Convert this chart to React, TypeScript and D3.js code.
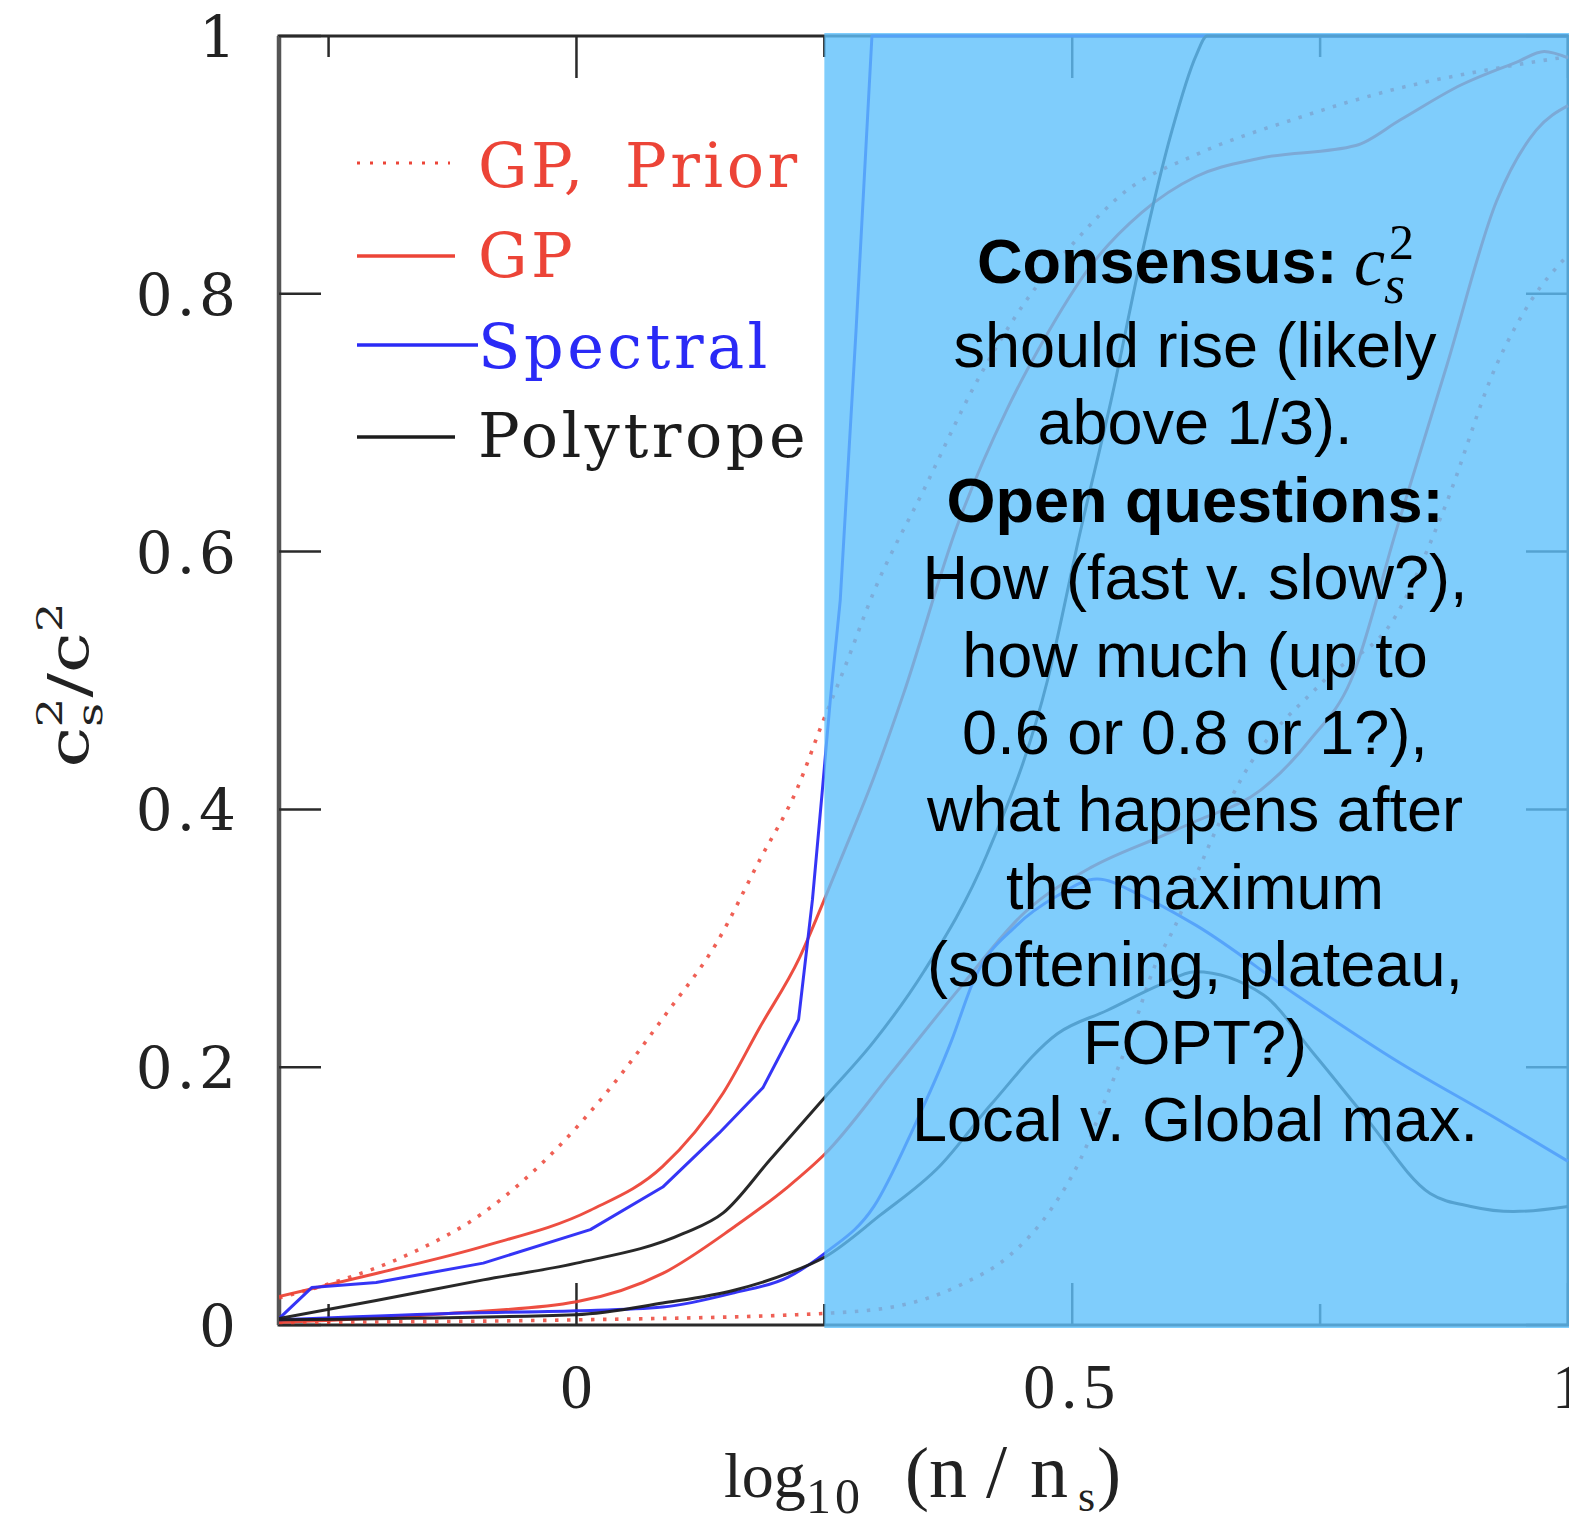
import React from "react";
import * as d3 from "d3";

const W = 1569;
const H = 1523;

// Axis ticks
const X_MAJOR = [0, 0.5, 1];
const X_MAJOR_LABELS = ["0", "0.5", "1"];
const X_MINOR = [-0.25, 0.25, 0.75];
const Y_MAJOR = [0, 0.2, 0.4, 0.6, 0.8, 1];
const Y_MAJOR_LABELS = ["0", "0.2", "0.4", "0.6", "0.8", "1"];

// 90% bands of c_s^2 vs log10(n/n_s): [log10(n/n_s), c_s^2]
const PRIOR_UPPER: [number, number][] = [
  [-0.3, 0.021], [-0.245, 0.033], [-0.166, 0.056], [-0.094, 0.087], [-0.021, 0.136],
  [0.03, 0.18], [0.091, 0.242], [0.141, 0.296], [0.185, 0.361], [0.222, 0.415],
  [0.248, 0.467], [0.27, 0.509], [0.3, 0.569], [0.351, 0.649], [0.401, 0.728],
  [0.452, 0.793], [0.502, 0.84], [0.553, 0.879], [0.625, 0.908], [0.726, 0.936],
  [0.827, 0.959], [0.928, 0.975], [1.0, 0.984],
];
const PRIOR_LOWER: [number, number][] = [
  [-0.3, 0.002], [0, 0.004], [0.25, 0.009], [0.326, 0.015], [0.387, 0.031],
  [0.437, 0.054], [0.478, 0.089], [0.508, 0.128], [0.535, 0.178], [0.559, 0.225],
  [0.583, 0.278], [0.604, 0.31], [0.625, 0.349], [0.67, 0.423], [0.754, 0.5],
  [0.827, 0.551], [0.875, 0.633], [0.928, 0.745], [0.963, 0.795], [1.0, 0.83],
];
const GP_UPPER: [number, number][] = [
  [-0.3, 0.022], [-0.202, 0.04], [-0.094, 0.061], [0.014, 0.089], [0.087, 0.123],
  [0.148, 0.18], [0.185, 0.231], [0.225, 0.285], [0.251, 0.332], [0.267, 0.362],
  [0.3, 0.425], [0.33, 0.49], [0.384, 0.62], [0.434, 0.71], [0.469, 0.761],
  [0.519, 0.822], [0.57, 0.863], [0.625, 0.891], [0.688, 0.905], [0.786, 0.915],
  [0.831, 0.935], [0.892, 0.962], [0.949, 0.98], [0.976, 0.988], [1.0, 0.983],
];
const GP_LOWER: [number, number][] = [
  [-0.3, 0.002], [-0.129, 0.009], [0, 0.018], [0.087, 0.04], [0.159, 0.076],
  [0.213, 0.107], [0.251, 0.133], [0.317, 0.195], [0.384, 0.259], [0.452, 0.32],
  [0.519, 0.355], [0.586, 0.378], [0.625, 0.391], [0.69, 0.415], [0.74, 0.454],
  [0.781, 0.5], [0.827, 0.617], [0.878, 0.745], [0.928, 0.872], [0.968, 0.927],
  [1.0, 0.946],
];
const SPECTRAL_UPPER: [number, number][] = [
  [-0.3, 0.005], [-0.267, 0.029], [-0.202, 0.033], [-0.094, 0.048], [0.014, 0.074],
  [0.087, 0.107], [0.144, 0.149], [0.188, 0.184], [0.224, 0.237], [0.238, 0.33],
  [0.248, 0.415], [0.256, 0.485], [0.266, 0.562], [0.282, 0.772], [0.298, 1.0],
  [1.0, 1.0],
];
const SPECTRAL_LOWER: [number, number][] = [
  [-0.3, 0.004], [-0.129, 0.009], [0, 0.011], [0.087, 0.014],
  [0.159, 0.025], [0.213, 0.037], [0.251, 0.056], [0.3, 0.092], [0.34, 0.153],
  [0.378, 0.22], [0.401, 0.268], [0.444, 0.31], [0.485, 0.333], [0.525, 0.346],
  [0.57, 0.333], [0.625, 0.31], [0.726, 0.256], [0.827, 0.205], [0.928, 0.16],
  [1.0, 0.127],
];
const POLY_UPPER: [number, number][] = [
  [-0.3, 0.005], [-0.202, 0.019], [-0.094, 0.035], [0, 0.048], [0.108, 0.071],
  [0.148, 0.087], [0.195, 0.128], [0.251, 0.177], [0.3, 0.22], [0.351, 0.275],
  [0.414, 0.365], [0.475, 0.5], [0.508, 0.615], [0.54, 0.72], [0.57, 0.83],
  [0.6, 0.925], [0.625, 0.985], [0.636, 1.0], [1.0, 1.0],
];
const POLY_LOWER: [number, number][] = [
  [-0.3, 0.004], [0, 0.008], [0.087, 0.017], [0.159, 0.027], [0.213, 0.04],
  [0.251, 0.053], [0.306, 0.085], [0.366, 0.123], [0.418, 0.171], [0.485, 0.226],
  [0.535, 0.244], [0.589, 0.264], [0.624, 0.274], [0.693, 0.256], [0.743, 0.211],
  [0.794, 0.163], [0.861, 0.102], [0.902, 0.092], [0.945, 0.088], [1.0, 0.092],
];

const RED = "#ec4437";
const BLUE = "#2a2af6";
const BLACK = "#1c1c1c";

const LEGEND_LABELS = [["GP,", "Prior"], ["GP"], ["Spectral"], ["Polytrope"]];
const LEGEND_COLORS = [RED, RED, BLUE, BLACK];
const LEGEND_DOTTED = [true, false, false, false];

// Shaded highlight region starts at this log10(n/n_s)
const HIGHLIGHT_FROM = 0.25;

const NOTE_LINES = [
  { text: "should rise (likely", bold: false },
  { text: "above 1/3).", bold: false },
  { text: "Open questions:", bold: true },
  { text: "How (fast v. slow?),", bold: false },
  { text: "how much (up to", bold: false },
  { text: "0.6 or 0.8 or 1?),", bold: false },
  { text: "what happens after", bold: false },
  { text: "the maximum", bold: false },
  { text: "(softening, plateau,", bold: false },
  { text: "FOPT?)", bold: false },
  { text: "Local v. Global max.", bold: false },
];

const SERIF_WIDE = "'DejaVu Serif', serif";
const SERIF = "'Liberation Serif', 'Times New Roman', serif";
const SANS = "'Liberation Sans', Arial, Helvetica, sans-serif";

export default function App() {
  const x = d3.scaleLinear().domain([-0.3, 1]).range([279, 1568]);
  const y = d3.scaleLinear().domain([0, 1]).range([1325, 36]);

  const smooth = d3
    .line<[number, number]>()
    .x((d) => x(d[0]))
    .y((d) => y(d[1]))
    .curve(d3.curveMonotoneX);
  const straight = d3
    .line<[number, number]>()
    .x((d) => x(d[0]))
    .y((d) => y(d[1]))
    .curve(d3.curveLinear);

  const x0 = x(-0.3);
  const x1 = x(1);
  const yTop = y(1);
  const yBot = y(0);
  const hx = x(HIGHLIGHT_FROM);

  const curves = [
    { d: smooth(PRIOR_UPPER), color: RED, dotted: true },
    { d: smooth(PRIOR_LOWER), color: RED, dotted: true },
    { d: smooth(GP_UPPER), color: RED, dotted: false },
    { d: smooth(GP_LOWER), color: RED, dotted: false },
    { d: straight(SPECTRAL_UPPER), color: BLUE, dotted: false },
    { d: smooth(SPECTRAL_LOWER), color: BLUE, dotted: false },
    { d: smooth(POLY_UPPER), color: BLACK, dotted: false },
    { d: smooth(POLY_LOWER), color: BLACK, dotted: false },
  ];

  const legendLineY = [163, 256, 345, 437];
  const legendTextY = [187, 277, 368, 457];
  const legendLineEnd = [450, 455, 478, 455];
  const legendWordX = [478, 625];

  const noteX = 1195;
  const noteY0 = 367;
  const noteDy = 77.4;

  return (
    <div style={{ position: "fixed", left: 0, top: 0, width: W, height: H, overflow: "hidden", background: "#fff" }}>
      <svg width={W} height={H} viewBox={`0 0 ${W} ${H}`} style={{ display: "block" }}>
        <defs>
          <clipPath id="plotClip">
            <rect x={x0} y={yTop - 3} width={x1 - x0 + 4} height={yBot - yTop + 6} />
          </clipPath>
        </defs>
        <rect x={0} y={0} width={W} height={H} fill="#fff" />

        {/* frame */}
        <rect x={x0} y={yTop} width={x1 - x0} height={yBot - yTop} fill="none" stroke="#2a2a2a" strokeWidth={3} />
        <line x1={x0} x2={x0} y1={yTop} y2={yBot} stroke="#555" strokeWidth={4.5} />

        {/* x ticks, bottom and top */}
        {X_MAJOR.map((t) => (
          <g key={`xm${t}`} stroke="#2a2a2a" strokeWidth={2.5}>
            <line x1={x(t)} x2={x(t)} y1={yBot} y2={yBot - 42} />
            <line x1={x(t)} x2={x(t)} y1={yTop} y2={yTop + 42} />
          </g>
        ))}
        {X_MINOR.map((t) => (
          <g key={`xn${t}`} stroke="#2a2a2a" strokeWidth={2.5}>
            <line x1={x(t)} x2={x(t)} y1={yBot} y2={yBot - 21} />
            <line x1={x(t)} x2={x(t)} y1={yTop} y2={yTop + 21} />
          </g>
        ))}
        {/* y ticks, left and right */}
        {Y_MAJOR.map((t) => (
          <g key={`ym${t}`} stroke="#2a2a2a" strokeWidth={2.5}>
            <line x1={x0} x2={x0 + 42} y1={y(t)} y2={y(t)} />
            <line x1={x1} x2={x1 - 42} y1={y(t)} y2={y(t)} />
          </g>
        ))}

        {/* bands */}
        <g clipPath="url(#plotClip)" fill="none">
          {curves.map((c, i) => (
            <path
              key={i}
              d={c.d || ""}
              stroke={c.color}
              strokeWidth={c.dotted ? 3.6 : 3}
              strokeDasharray={c.dotted ? "3.5 8.5" : undefined}
              strokeLinejoin="round"
              opacity={c.dotted ? 0.85 : 0.95}
            />
          ))}
        </g>

        {/* legend */}
        {LEGEND_LABELS.map((words, i) => (
          <g key={words.join(" ")}>
            <line
              x1={357}
              x2={legendLineEnd[i]}
              y1={legendLineY[i]}
              y2={legendLineY[i]}
              stroke={LEGEND_COLORS[i]}
              strokeWidth={LEGEND_DOTTED[i] ? 3 : 3.5}
              strokeDasharray={LEGEND_DOTTED[i] ? "3 10" : undefined}
            />
            <text
              y={legendTextY[i]}
              fill={LEGEND_COLORS[i]}
              fontFamily={SERIF_WIDE}
              fontSize={62}
              letterSpacing={3.5}
            >
              {words.map((w, j) => (
                <tspan key={w} x={legendWordX[j]}>
                  {w}
                </tspan>
              ))}
            </text>
          </g>
        ))}

        {/* y tick labels */}
        {Y_MAJOR.map((t, i) => (
          <text
            key={`yl${t}`}
            x={240}
            y={y(t) + 21}
            textAnchor="end"
            fontFamily={SERIF_WIDE}
            fontSize={58}
            letterSpacing={4}
            fill="#222"
          >
            {Y_MAJOR_LABELS[i]}
          </text>
        ))}

        {/* x tick labels */}
        {X_MAJOR.map((t, i) => (
          <text
            key={`xl${t}`}
            x={x(t)}
            y={1408}
            textAnchor="middle"
            fontFamily={SERIF}
            fontSize={64}
            letterSpacing={X_MAJOR_LABELS[i].length > 1 ? 6 : 0}
            fill="#222"
          >
            {X_MAJOR_LABELS[i]}
          </text>
        ))}

        {/* x axis title */}
        <text y={1497} fontFamily={SERIF} fill="#222" fontSize={66}>
          <tspan x={724} fontSize={64}>log</tspan>
          <tspan x={806} dy={16} fontSize={50} letterSpacing={4}>10</tspan>
          <tspan x={905} dy={-16} fontSize={72}>(</tspan>
          <tspan x={929} fontSize={76}>n</tspan>
          <tspan x={986} fontSize={76}>/</tspan>
          <tspan x={1030} fontSize={76}>n</tspan>
          <tspan x={1078} dy={14} fontSize={44}>s</tspan>
          <tspan x={1097} dy={-14} fontSize={72}>)</tspan>
        </text>

        {/* y axis title */}
        <g transform="translate(88,685) rotate(-90) scale(1.3,1)">
          <text x={0} y={0} textAnchor="middle" fontFamily={SERIF_WIDE} fontSize={56} fill="#222">
            <tspan>c</tspan>
            <tspan fontSize={36} dy={14}>s</tspan>
            <tspan fontSize={36} dx={-19} dy={-40}>2</tspan>
            <tspan dy={26}>/c</tspan>
            <tspan fontSize={36} dy={-26}>2</tspan>
          </text>
        </g>

        {/* highlighted region */}
        <rect x={hx} y={yTop - 3} width={W - hx} height={yBot - yTop + 6} fill="#5fc0fb" opacity={0.8} />

        {/* annotation */}
        <text x={977} y={283} fontFamily={SANS} fontWeight="bold" fontSize={63} fill="#000">
          Consensus:
        </text>
        <text x={1354} y={285} fontFamily={SERIF} fill="#000">
          <tspan fontStyle="italic" fontSize={70}>c</tspan>
          <tspan fontStyle="italic" fontSize={54} dx={-1} dy={18}>s</tspan>
          <tspan fontSize={50} dx={-16} dy={-44}>2</tspan>
        </text>
        {NOTE_LINES.map((l, i) => (
          <text
            key={i}
            x={noteX}
            y={noteY0 + i * noteDy}
            textAnchor="middle"
            fontFamily={SANS}
            fontWeight={l.bold ? "bold" : "normal"}
            fontSize={63}
            fill="#000"
          >
            {l.text}
          </text>
        ))}
      </svg>
    </div>
  );
}
